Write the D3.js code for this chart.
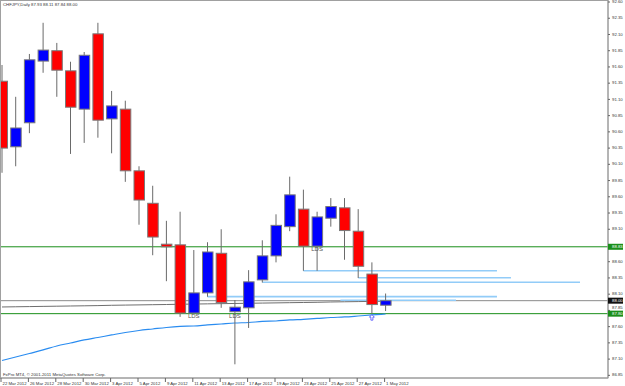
<!DOCTYPE html>
<html>
<head>
<meta charset="utf-8">
<script src="https://cdn.jsdelivr.net/npm/d3@7"></script>
<style>
  body { margin: 0; background: #fff; }
  svg { display: block; font-family: "Liberation Sans", Arial, sans-serif; }
</style>
</head>
<body>
<div id="chart-container"></div>
<script>

// Data

var dates = ['22 Mar 2012', '23 Mar 2012', '26 Mar 2012', '27 Mar 2012', '28 Mar 2012', '29 Mar 2012', '30 Mar 2012',
             '2 Apr 2012', '3 Apr 2012', '4 Apr 2012', '5 Apr 2012', '6 Apr 2012', '9 Apr 2012', '10 Apr 2012',
             '11 Apr 2012', '12 Apr 2012', '13 Apr 2012', '16 Apr 2012', '17 Apr 2012', '18 Apr 2012', '19 Apr 2012',
             '20 Apr 2012', '23 Apr 2012', '24 Apr 2012', '25 Apr 2012', '26 Apr 2012', '27 Apr 2012', '30 Apr 2012', '1 May 2012'];

var open  = [91.38, 90.37, 90.74, 91.69, 91.85, 91.54, 90.95, 92.11, 90.80, 90.95, 90.00, 89.50, 88.87, 88.86, 87.81,
             88.12, 88.73, 87.83, 87.89, 88.32, 88.69, 89.14, 89.41, 88.84, 89.27, 89.43, 89.07, 88.41, 87.93];
var high  = [91.63, 91.14, 91.80, 92.28, 91.97, 91.68, 91.83, 92.28, 91.23, 91.08, 90.07, 89.77, 89.23, 89.37, 88.78,
             88.90, 89.10, 88.01, 88.47, 88.93, 89.33, 89.91, 89.71, 89.37, 89.58, 89.58, 89.41, 88.59, 88.11];
var low   = [89.97, 90.07, 90.58, 91.51, 91.14, 90.26, 90.43, 90.51, 90.27, 89.83, 89.17, 88.70, 88.30, 87.75, 87.80,
             88.06, 87.89, 87.02, 87.58, 88.28, 88.59, 89.07, 88.46, 88.46, 89.14, 88.63, 88.35, 87.80, 87.84];
var close = [90.35, 90.66, 91.71, 91.86, 91.55, 90.98, 91.78, 90.78, 91.00, 90.00, 89.55, 88.98, 88.83, 87.81, 88.12,
             88.75, 87.97, 87.90, 88.29, 88.69, 89.16, 89.63, 88.84, 89.29, 89.45, 89.08, 88.53, 87.94, 88.00];

// moving averages (blue and grey)
var maBlue = [87.079, 87.133, 87.187, 87.241, 87.302, 87.348, 87.395, 87.433, 87.472, 87.510, 87.541, 87.564, 87.587, 87.603,
              87.610, 87.626, 87.641, 87.656, 87.664, 87.680, 87.687, 87.703, 87.713, 87.726, 87.741, 87.749, 87.764, 87.780, 87.795];
var maGrey = [87.903, 87.906, 87.909, 87.912, 87.915, 87.918, 87.921, 87.924, 87.929, 87.932, 87.935, 87.938, 87.941, 87.945,
              87.948, 87.951, 87.954, 87.957, 87.960, 87.963, 87.966, 87.969, 87.972, 87.975, 87.980, 87.983, 87.986, 87.989, 87.992];

// price axis ticks
var priceTicks = [92.60, 92.35, 92.10, 91.85, 91.60, 91.35, 91.10, 90.85, 90.60, 90.35, 90.10, 89.85, 89.60,
                  89.35, 89.10, 88.85, 88.60, 88.35, 88.10, 87.85, 87.60, 87.35, 87.10, 86.85];

// horizontal levels (green) and level lines (light blue, bar index from -> to)
var greenLevels = [88.83, 87.80];
var blueFrom  = [22, 26, 19, 15, 24.7];
var blueTo    = [36.13, 37.15, 42.19, 36.13, 33.14];
var bluePrice = [88.462, 88.354, 88.283, 88.062, 88.006];

// LDS texts
var ldsIdx   = [14, 17, 23];
var ldsPrice = [87.757, 87.757, 88.79];

var arrowIdx = 27;
var bid = 88.00;
var title = 'CHFJPY,Daily  87.93 88.11 87.84 88.00';
var copyright = 'FxPro MT4, \u00a9 2001-2011 MetaQuotes Software Corp.';

// Dimensions

var width = 625, height = 386;
var plotRight = 608, plotBottom = 378;

var svg = d3.select('#chart-container').append('svg')
    .attr('width', width)
    .attr('height', height);

var x = d3.scaleLinear()
    .domain([0, dates.length - 1])
    .range([2, 385.6]);

var y = d3.scaleLinear()
    .domain([86.809, 92.631])
    .range([plotBottom, 0]);

var plot = svg.append('g');

// clip to the chart window
svg.append('clipPath').attr('id', 'clip')
  .append('rect').attr('x', 0).attr('y', 0).attr('width', plotRight).attr('height', plotBottom);
plot.attr('clip-path', 'url(#clip)');

// Frame

svg.append('rect')
    .attr('x', 0.5).attr('y', 0.5)
    .attr('width', plotRight - 0.5).attr('height', plotBottom - 0.5)
    .attr('fill', 'none')
    .attr('stroke', '#a0a0a0');

// Moving averages

var maLine = function (vals) {
  return d3.line()
    .x(function (d, i) { return x(i); })
    .y(function (d) { return y(d); })
    .curve(d3.curveMonotoneX)(vals);
};

plot.append('path')
    .attr('d', maLine(maGrey))
    .attr('fill', 'none')
    .attr('stroke', '#6e6e6e')
    .attr('stroke-width', 1);

// Bid line

plot.append('line')
    .attr('x1', 0).attr('x2', plotRight)
    .attr('y1', y(bid)).attr('y2', y(bid))
    .attr('stroke', '#8a8a8a')
    .attr('stroke-width', 1);

// Green levels

plot.selectAll('line.level')
    .data(greenLevels)
    .enter().append('line')
    .attr('class', 'level')
    .attr('x1', 0).attr('x2', plotRight)
    .attr('y1', function (d) { return y(d); })
    .attr('y2', function (d) { return y(d); })
    .attr('stroke', '#1a8f1a')
    .attr('stroke-width', 1);

// Light blue level lines

plot.selectAll('line.blue')
    .data(bluePrice)
    .enter().append('line')
    .attr('class', 'blue')
    .attr('x1', function (d, i) { return x(blueFrom[i]); })
    .attr('x2', function (d, i) { return x(blueTo[i]); })
    .attr('y1', function (d) { return y(d); })
    .attr('y2', function (d) { return y(d); })
    .attr('stroke', '#92ccf8')
    .attr('stroke-width', 1.6);

plot.append('path')
    .attr('d', maLine(maBlue))
    .attr('fill', 'none')
    .attr('stroke', '#2a8cf0')
    .attr('stroke-width', 1.2);

// Candles

var candles = plot.selectAll('g.candle')
    .data(dates)
    .enter().append('g')
    .attr('class', 'candle');

candles.append('line')
    .attr('x1', function (d, i) { return x(i); })
    .attr('x2', function (d, i) { return x(i); })
    .attr('y1', function (d, i) { return y(high[i]); })
    .attr('y2', function (d, i) { return y(low[i]); })
    .attr('stroke', '#6a6a6a')
    .attr('stroke-width', 1);

candles.append('rect')
    .attr('x', function (d, i) { return x(i) - 5; })
    .attr('width', 10.5)
    .attr('y', function (d, i) { return y(Math.max(open[i], close[i])); })
    .attr('height', function (d, i) { return Math.max(1, Math.abs(y(open[i]) - y(close[i]))); })
    .attr('fill', function (d, i) { return close[i] >= open[i] ? '#0000ff' : '#ff0000'; })
    .attr('stroke', '#7a7a7a')
    .attr('stroke-width', 1);

// LDS labels

plot.selectAll('text.lds')
    .data(ldsIdx)
    .enter().append('text')
    .attr('class', 'lds')
    .attr('x', function (d) { return x(d); })
    .attr('y', function (d, i) { return y(ldsPrice[i]); })
    .attr('text-anchor', 'middle')
    .attr('dominant-baseline', 'middle')
    .attr('font-size', '6px')
    .attr('fill', '#555')
    .text('LDS');

// Up arrow under the 30 Apr bar

var ax = x(arrowIdx), ay = y(low[arrowIdx]) + 1;
plot.append('path')
    .attr('d', 'M' + ax + ',' + ay + 'l-2.5,2.5h1.5v3h2v-3h1.5z')
    .attr('fill', '#fff')
    .attr('stroke', '#4a4aff')
    .attr('stroke-width', 0.8);

// Texts

svg.append('text')
    .attr('x', 3).attr('y', 6)
    .attr('font-size', '4.3px')
    .attr('fill', '#333')
    .text(title);

svg.append('text')
    .attr('x', 3).attr('y', 376)
    .attr('font-size', '4.3px')
    .attr('fill', '#333')
    .text(copyright);

// Price axis

var priceAxis = svg.append('g');

priceAxis.append('line')
    .attr('x1', plotRight).attr('x2', plotRight)
    .attr('y1', 0).attr('y2', plotBottom)
    .attr('stroke', '#9a9a9a');

var boxes = greenLevels.map(function (v) { return { v: v, c: '#1a8f1a' }; })
    .concat([{ v: bid, c: '#111' }]);

var shownTicks = priceTicks.filter(function (t) {
  return greenLevels.every(function (g) { return Math.abs(y(g) - y(t)) > 2; });
});

// nudge a tick label off any value box it would touch
var tickLabelY = function (t) {
  var ty = y(t);
  boxes.forEach(function (b) {
    var by = y(b.v);
    if (Math.abs(ty - by) < 5.5) ty = ty < by ? by - 5.5 : by + 5.5;
  });
  return ty;
};

priceAxis.selectAll('line.tick')
    .data(shownTicks)
    .enter().append('line')
    .attr('class', 'tick')
    .attr('x1', plotRight).attr('x2', plotRight + 2)
    .attr('y1', function (d) { return y(d); })
    .attr('y2', function (d) { return y(d); })
    .attr('stroke', '#666');

priceAxis.selectAll('text.tick')
    .data(shownTicks)
    .enter().append('text')
    .attr('class', 'tick')
    .attr('x', plotRight + 4)
    .attr('y', tickLabelY)
    .attr('dominant-baseline', 'middle')
    .attr('font-size', '4.3px')
    .attr('fill', '#333')
    .text(function (d) { return d.toFixed(2); });

// value boxes for levels and bid

priceAxis.selectAll('rect.box')
    .data(boxes)
    .enter().append('rect')
    .attr('class', 'box')
    .attr('x', plotRight)
    .attr('y', function (d) { return y(d.v) - 3; })
    .attr('width', 15)
    .attr('height', 6)
    .attr('fill', function (d) { return d.c; });

priceAxis.selectAll('text.box')
    .data(boxes)
    .enter().append('text')
    .attr('class', 'box')
    .attr('x', plotRight + 4)
    .attr('y', function (d) { return y(d.v); })
    .attr('dominant-baseline', 'middle')
    .attr('font-size', '4.3px')
    .attr('fill', '#fff')
    .text(function (d) { return d.v.toFixed(2); });

// Date axis

var dateAxis = svg.append('g');

dateAxis.append('line')
    .attr('x1', 0).attr('x2', plotRight)
    .attr('y1', plotBottom).attr('y2', plotBottom)
    .attr('stroke', '#9a9a9a');

var labelIdx = d3.range(0, dates.length, 2);

dateAxis.selectAll('line.tick')
    .data(labelIdx)
    .enter().append('line')
    .attr('class', 'tick')
    .attr('x1', function (d) { return x(d) - 1; })
    .attr('x2', function (d) { return x(d) - 1; })
    .attr('y1', plotBottom).attr('y2', plotBottom + 4)
    .attr('stroke', '#666');

dateAxis.selectAll('text.tick')
    .data(labelIdx)
    .enter().append('text')
    .attr('class', 'tick')
    .attr('x', function (d) { return x(d) + 0.5; })
    .attr('y', 384.5)
    .attr('font-size', '4.3px')
    .attr('fill', '#333')
    .text(function (d) { return dates[d]; });

</script>
</body>
</html>
